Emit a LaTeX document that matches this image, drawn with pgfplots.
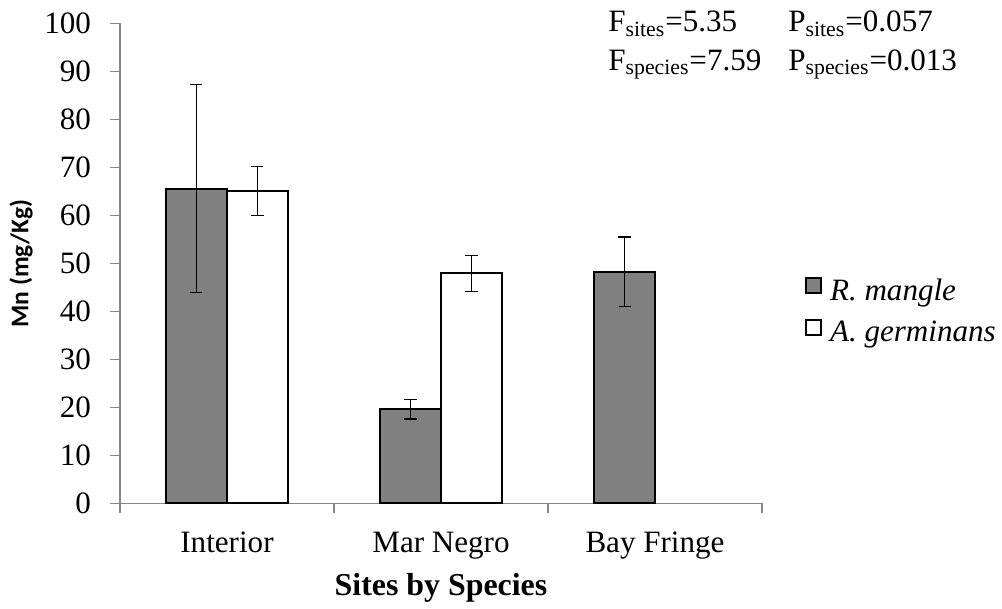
\documentclass[border=0pt]{standalone}
\usepackage{fontspec}
\setmainfont{Liberation Serif}
\newfontfamily\calibri{Carlito}
\usepackage{pgfplots}
\pgfplotsset{compat=1.18}
\definecolor{barGray}{HTML}{808080}
\definecolor{axisGray}{HTML}{868686}
\begin{document}
\begin{tikzpicture}
\begin{axis}[
  at={(0,0)}, anchor=south west,
  scale only axis, width=321bp, height=240bp,
  clip mode=individual,
  xmin=-0.5, xmax=2.5, ymin=0, ymax=100,
  axis lines*=left,
  axis line style={axisGray, line width=0.6bp},
  ybar=0pt, bar width=30.5bp,
  xtick={-0.5,0.5,1.5,2.5}, xticklabels={,,,},
  extra x ticks={0,1,2}, extra x tick labels={Interior, Mar Negro, Bay Fringe},
  extra x tick style={tick style={draw=none}, xticklabel style={anchor=base, yshift=-19.7bp}},
  ytick={0,10,...,100},
  tick align=outside,
  tick style={axisGray, line width=0.6bp},
  major tick length=5bp,
  /pgf/number format/assume math mode=true,
  ticklabel style={font=\fontsize{15.6}{18}\selectfont},
  yticklabel style={anchor=east, xshift=-6bp},
  xlabel={Sites by Species},
  xlabel style={font=\bfseries\fontsize{16}{19}\selectfont, at={(axis description cs:0.5,0)}, anchor=base, yshift=-45.85bp},
  ylabel={\calibri\bfseries Mn (mg/Kg)},
  ylabel style={font=\fontsize{12.8}{15}\selectfont, at={([xshift=-49.5bp]axis description cs:0,0.5)}, anchor=center},
  legend style={draw=none, fill=none, at={(1.067,0.4717)}, anchor=north west, inner sep=0pt,
    font=\itshape\fontsize{15.6}{18}\selectfont, row sep=6bp, column sep=4bp,
    nodes={inner sep=0pt, text height=10.5bp, text depth=3.5bp}},
  legend cell align=left,
  legend image code/.code={\draw[#1, line width=0.8bp] (0bp,0bp) rectangle (7.5bp,7.5bp);},
  error bars/y dir=both, error bars/y explicit,
  error bars/error bar style={black, line width=0.6bp},
  error bars/error mark options={black, rotate=90, mark size=3bp, line width=0.6bp},
]
\addplot[fill=barGray, draw=black, line width=1bp] coordinates {
  (0,65.6) +- (0,21.7)
  (1,19.6) +- (0,2.0)
  (2,48.25) +- (0,7.25)
};
\addlegendentry{R. mangle}
\addplot[fill=white, draw=black, line width=1bp] coordinates {
  (0,65.1) +- (0,5.1)
  (1,47.9) +- (0,3.8)
};
\addlegendentry{A. germinans}
\node[anchor=base west, font=\fontsize{15.6}{18}\selectfont, inner sep=0pt] at (rel axis cs:0.7601,0.9825) {F\textsubscript{sites}=5.35};
\node[anchor=base west, font=\fontsize{15.6}{18}\selectfont, inner sep=0pt] at (rel axis cs:1.0405,0.9825) {P\textsubscript{sites}=0.057};
\node[anchor=base west, font=\fontsize{15.6}{18}\selectfont, inner sep=0pt] at (rel axis cs:0.7601,0.9029) {F\textsubscript{species}=7.59};
\node[anchor=base west, font=\fontsize{15.6}{18}\selectfont, inner sep=0pt] at (rel axis cs:1.0405,0.9029) {P\textsubscript{species}=0.013};
\end{axis}
\path[use as bounding box] (-60bp,-51.3bp) rectangle (441bp,251.7bp);
\end{tikzpicture}
\end{document}
